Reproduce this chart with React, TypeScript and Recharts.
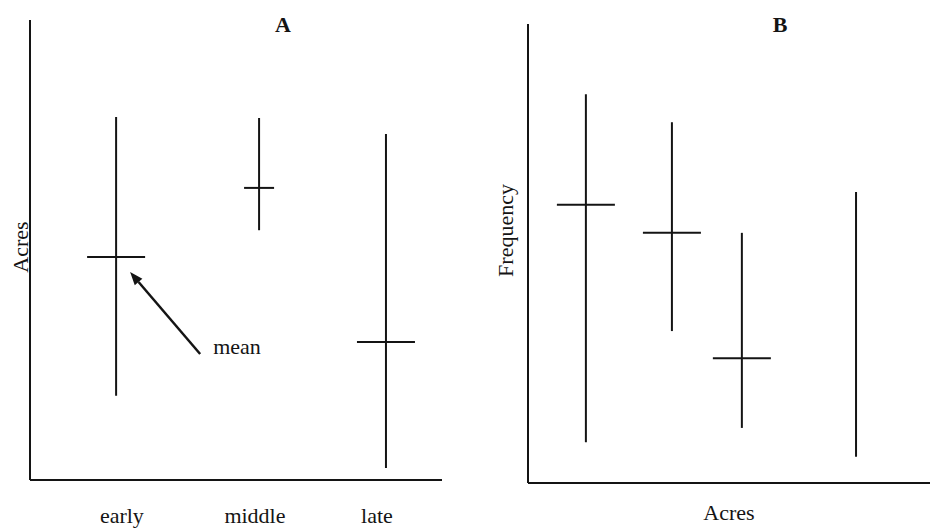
import React from 'react';
import { ScatterChart, Scatter, XAxis, YAxis, ErrorBar, ReferenceLine } from 'recharts';

// Panel A: acres by period (range + mean)
const periods = ['early', 'middle', 'late'];
const periodX = [2.09, 5.56, 8.64];
const periodTickX = [2.23, 5.46, 8.42];
const acresLow = [18.3, 54.3, 2.6];
const acresHigh = [78.9, 78.7, 75.2];
const acresMean = [48.5, 63.5, 30.0];

// Panel B: frequency ranges along acres
const sizeX = [1.44, 3.58, 5.32, 8.16];
const freqLow = [8.9, 33.1, 12.0, 5.7];
const freqHigh = [84.7, 78.6, 54.5, 63.4];
const freqMean: (number | null)[] = [60.6, 54.5, 27.2, null];

// "mean" pointer, in panel A data units (tail -> head)
const arrowFrom = { x: 4.13, y: 27.4 };
const arrowTo = { x: 2.43, y: 45.2 };

const INK = '#141414';
const FONT = '"Liberation Serif", "Times New Roman", serif';

const rangesA = periods.map((p, i) => ({
    name: p,
    x: periodX[i],
    y: acresLow[i],
    err: [0, acresHigh[i] - acresLow[i]],
}));
const meansA = periods.map((p, i) => ({ name: p, x: periodX[i], y: acresMean[i] }));

const rangesB = sizeX.map((x, i) => ({
    name: `g${i}`,
    x,
    y: freqLow[i],
    err: [0, freqHigh[i] - freqLow[i]],
}));
const meansB = sizeX
    .map((x, i) => ({ name: `g${i}`, x, y: freqMean[i] }))
    .filter(d => d.y != null);

// short horizontal tick for the mean
const MeanTick = (props: any) => {
    const { cx, cy, payload } = props;
    if (cx == null || cy == null) return <g />;
    const half = payload && payload.name === 'middle' ? 15 : 29;
    return <line x1={cx - half} x2={cx + half} y1={cy} y2={cy} stroke={INK} strokeWidth={2} />;
};

const Hidden = () => <g />;

const MeanArrow = (props: any) => {
    const { x1, y1, x2, y2 } = props;
    if ([x1, y1, x2, y2].some(v => v == null || isNaN(v))) return <g />;
    const ang = Math.atan2(y2 - y1, x2 - x1);
    const len = 13;
    const w = 5;
    const bx = x2 - len * Math.cos(ang);
    const by = y2 - len * Math.sin(ang);
    const px = -Math.sin(ang) * w;
    const py = Math.cos(ang) * w;
    return (
        <g>
            <line x1={x1} y1={y1} x2={bx} y2={by} stroke={INK} strokeWidth={2.5} />
            <polygon points={`${x2},${y2} ${bx + px},${by + py} ${bx - px},${by - py}`} fill={INK} />
            <text x={x1 + 13} y={y1} fontFamily={FONT} fontSize={22} fill={INK}>mean</text>
        </g>
    );
};

// rotated y-axis title
const VTitle = (props: any) => {
    const { viewBox, caption, inset, shift } = props;
    if (!viewBox) return null;
    const x = viewBox.x + inset;
    const y = viewBox.y + viewBox.height / 2 + (shift || 0);
    return (
        <text
            x={x}
            y={y}
            transform={`rotate(-90, ${x}, ${y})`}
            textAnchor="middle"
            dominantBaseline="central"
            fontFamily={FONT}
            fontSize={22}
            fill={INK}
        >
            {caption}
        </text>
    );
};

const axisLine = { stroke: INK, strokeWidth: 2 };

const App = () => {
    return (
        <div style={{ position: 'absolute', left: 0, top: 0, width: 930, height: 531, background: '#fff' }}>
            <div style={{ position: 'absolute', left: 0, top: 0 }}>
                <ScatterChart width={465} height={531} margin={{ top: 20, right: 23, bottom: 0, left: 0 }}>
                    <XAxis
                        dataKey="x"
                        type="number"
                        domain={[0, 10]}
                        allowDataOverflow
                        ticks={periodTickX}
                        interval={0}
                        tickFormatter={(_v: any, i: number) => periods[i]}
                        height={51}
                        axisLine={axisLine}
                        tickLine={false}
                        tickSize={0}
                        tickMargin={27}
                        tick={{ fill: INK, fontSize: 22, fontFamily: FONT }}
                    />
                    <YAxis
                        dataKey="y"
                        type="number"
                        domain={[0, 100]}
                        allowDataOverflow
                        width={30}
                        axisLine={axisLine}
                        tickLine={false}
                        tick={false}
                        label={<VTitle caption="Acres" inset={20} shift={-3} />}
                    />
                    <Scatter data={rangesA} dataKey="y" shape={Hidden} isAnimationActive={false}>
                        <ErrorBar dataKey="err" direction="y" width={0} stroke={INK} strokeWidth={2} isAnimationActive={false} />
                    </Scatter>
                    <Scatter data={meansA} dataKey="y" shape={MeanTick} isAnimationActive={false} />
                    <ReferenceLine segment={[arrowFrom, arrowTo]} shape={MeanArrow} />
                </ScatterChart>
            </div>
            <div style={{ position: 'absolute', left: 465, top: 0 }}>
                <ScatterChart width={465} height={531} margin={{ top: 24, right: 0, bottom: 0, left: 0 }}>
                    <XAxis
                        dataKey="x"
                        type="number"
                        domain={[0, 10]}
                        allowDataOverflow
                        height={48}
                        axisLine={axisLine}
                        tickLine={false}
                        tick={false}
                        label={{ value: 'Acres', position: 'insideBottom', offset: 11, fill: INK, fontSize: 22, fontFamily: FONT }}
                    />
                    <YAxis
                        dataKey="y"
                        type="number"
                        domain={[0, 100]}
                        allowDataOverflow
                        width={63}
                        axisLine={axisLine}
                        tickLine={false}
                        tick={false}
                        label={<VTitle caption="Frequency" inset={40} shift={-23} />}
                    />
                    <Scatter data={rangesB} dataKey="y" shape={Hidden} isAnimationActive={false}>
                        <ErrorBar dataKey="err" direction="y" width={0} stroke={INK} strokeWidth={2} isAnimationActive={false} />
                    </Scatter>
                    <Scatter data={meansB} dataKey="y" shape={MeanTick} isAnimationActive={false} />
                </ScatterChart>
            </div>
            <svg width={930} height={531} style={{ position: 'absolute', left: 0, top: 0, pointerEvents: 'none' }}>
                <text x={283} y={32} textAnchor="middle" fontFamily={FONT} fontSize={22} fontWeight="bold" fill={INK}>A</text>
                <text x={780} y={32} textAnchor="middle" fontFamily={FONT} fontSize={22} fontWeight="bold" fill={INK}>B</text>
            </svg>
        </div>
    );
};

export default App;
